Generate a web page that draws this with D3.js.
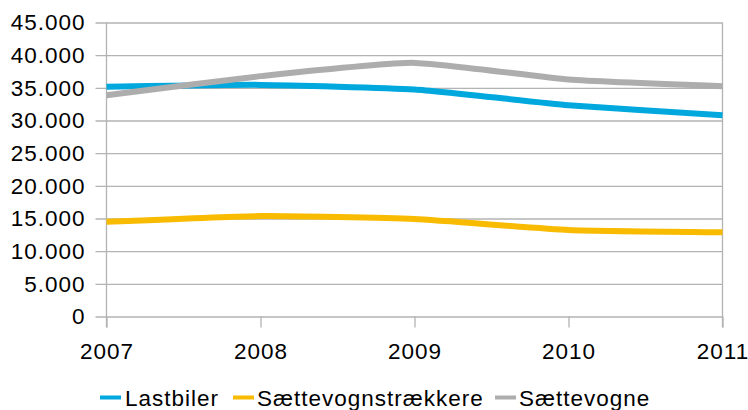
<!DOCTYPE html>
<html>
<head>
<meta charset="utf-8">
<script src="https://cdn.jsdelivr.net/npm/d3@7"></script>
<style>
  body { margin: 0; background: #fff; }
  svg { display: block; font-family: "Liberation Sans", Arial, sans-serif; }
  svg text { letter-spacing: 1px; }
</style>
</head>
<body>
<div id="chart"></div>
<script>
const years = [2007, 2008, 2009, 2010, 2011];
const lastbiler = [35150, 35450, 34750, 32350, 30820];
const saettevognstraekkere = [14500, 15370, 14910, 13230, 12880];
const saettevogne = [33880, 36790, 38820, 36280, 35260];
const yTicks = [0, 5000, 10000, 15000, 20000, 25000, 30000, 35000, 40000, 45000];

const seriesNames = ['Lastbiler', 'Sættevognstrækkere', 'Sættevogne'];
const seriesColors = ['#00a8de', '#f9bb00', '#adadad'];

const width = 748,
    height = 410;
const margin = { top: 22.5, right: 25.5, bottom: 93.5, left: 106.5 };
const axisColor = '#b3b3b3';
const fontSize = '22.5px';

const series = [lastbiler, saettevognstraekkere, saettevogne].map((vals, i) => ({
    name: seriesNames[i],
    color: seriesColors[i],
    values: vals.map((v, j) => ({ year: years[j], value: v }))
}));

const svg = d3.select('#chart').append('svg')
    .attr('width', width)
    .attr('height', height);

const x = d3.scalePoint()
    .domain(years)
    .range([margin.left, width - margin.right]);

const y = d3.scaleLinear()
    .domain([0, 45000])
    .range([height - margin.bottom, margin.top]);

const fmt = v => d3.format(',')(v).replace(/,/g, '.');

// horizontal gridlines + y labels
const yAxis = d3.axisLeft(y)
    .tickValues(yTicks)
    .tickSize(-(width - margin.right - margin.left))
    .tickFormat(fmt);

const gy = svg.append('g')
    .attr('transform', 'translate(' + margin.left + ',0)')
    .call(yAxis);
gy.select('.domain').remove();
gy.selectAll('.tick line')
    .attr('x1', -11)
    .attr('stroke', axisColor)
    .attr('stroke-width', 1.3);
gy.selectAll('.tick text')
    .attr('x', -21)
    .attr('fill', '#000')
    .style('font-size', fontSize);

// x axis ticks
const xAxis = d3.axisBottom(x)
    .tickSize(11)
    .tickPadding(16);

const gx = svg.append('g')
    .attr('transform', 'translate(0,' + (height - margin.bottom) + ')')
    .call(xAxis);
gx.select('.domain').remove();
gx.selectAll('.tick line')
    .attr('y1', 0)
    .attr('stroke', axisColor)
    .attr('stroke-width', 1.3);
gx.selectAll('.tick text')
    .attr('fill', '#000')
    .style('font-size', fontSize);

// left and right vertical axis lines
[years[0], years[years.length - 1]].forEach(yr => {
    svg.append('line')
        .attr('x1', x(yr)).attr('x2', x(yr))
        .attr('y1', margin.top)
        .attr('y2', height - margin.bottom + 11)
        .attr('stroke', axisColor)
        .attr('stroke-width', 1.3);
});

const line = d3.line()
    .x(d => x(d.year))
    .y(d => y(d.value))
    .curve(d3.curveCardinal.tension(0.5));

svg.append('g').selectAll('path')
    .data(series)
    .enter()
    .append('path')
    .attr('d', d => line(d.values))
    .attr('fill', 'none')
    .attr('stroke', d => d.color)
    .attr('stroke-width', 6)
    .attr('stroke-linejoin', 'round');

// legend
const legendItems = [
    { x: 100, textX: 125 },
    { x: 233, textX: 257 },
    { x: 495, textX: 519 }
];
const legend = svg.append('g');
series.forEach((s, i) => {
    legend.append('line')
        .attr('x1', legendItems[i].x)
        .attr('x2', legendItems[i].x + 21)
        .attr('y1', 397.5)
        .attr('y2', 397.5)
        .attr('stroke', s.color)
        .attr('stroke-width', 4);
    legend.append('text')
        .attr('x', legendItems[i].textX)
        .attr('y', 406)
        .style('font-size', fontSize)
        .text(s.name);
});
</script>
</body>
</html>
